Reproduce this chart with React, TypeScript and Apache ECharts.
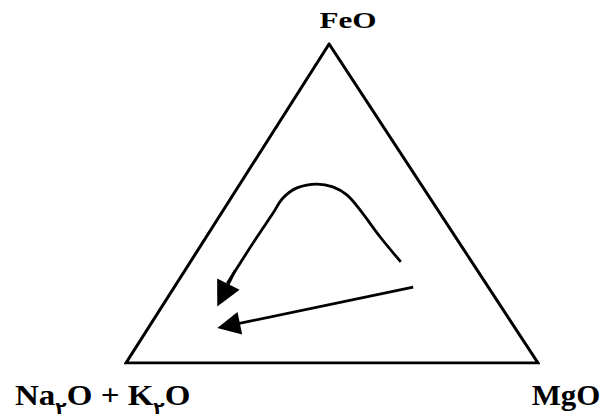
import React, { useEffect, useRef } from 'react';
import * as echarts from 'echarts';

// Ternary frame (plotted in a hidden 0..100 cartesian frame)
const triangleX = [50, 100, 49.3, 0, 50];
const triangleY = [0, 0, 100, 0, 0];

// Curved trend (hump) ending in an arrow toward the Na2O+K2O corner
const curveX = [66.7, 61.7, 56.8, 53.6, 50.2, 46.4, 41.5, 38.1, 35.7, 31.8, 27.7, 24.6];
const curveY = [31.7, 39.5, 48.0, 52.7, 55.2, 56.1, 54.9, 51.7, 47.0, 39.5, 31.3, 25.0];
const curveArrowFrom = [26.5, 29.0];
const curveArrowTo = [23.5, 21.2];

// Straight trend arrow
const straightArrowFrom = [69.7, 23.8];
const straightArrowTo = [24.9, 11.7];

// Vertex labels
const apexLabel = 'FeO';
const leftLabel = '{b|Na}{s|۲}{b|O + K}{s|۲}{b|O}';
const rightLabel = 'MgO';

const serif = '"Liberation Serif", "Times New Roman", serif';

export default function App() {
  const ref = useRef<HTMLDivElement>(null);
  useEffect(() => {
    if (!ref.current) return;
    const chart = echarts.init(ref.current, null, { renderer: 'svg' });
    const black = '#000';
    chart.setOption({
      animation: false,
      backgroundColor: '#fff',
      grid: { left: 126, right: 65, top: 44, bottom: 53, containLabel: false },
      xAxis: { type: 'value', min: 0, max: 100, show: false },
      yAxis: { type: 'value', min: 0, max: 100, show: false },
      series: [
        {
          type: 'line',
          data: triangleX.map((x, i) => [x, triangleY[i]]),
          symbol: 'none',
          lineStyle: { color: black, width: 3, join: 'miter', cap: 'butt' },
          silent: true,
        },
        {
          type: 'line',
          data: curveX.map((x, i) => [x, curveY[i]]),
          symbol: 'none',
          smooth: 0.35,
          lineStyle: { color: black, width: 2.8, cap: 'butt' },
          silent: true,
        },
        {
          type: 'lines',
          coordinateSystem: 'cartesian2d',
          symbol: ['none', 'triangle'],
          symbolSize: [16, 25],
          lineStyle: { color: black, width: 2.8, opacity: 1, curveness: 0 },
          itemStyle: { color: black },
          silent: true,
          data: [
            { coords: [curveArrowFrom, curveArrowTo] },
            { coords: [straightArrowFrom, straightArrowTo], symbolSize: [15, 23] },
          ],
        },
      ],
      graphic: [
        {
          type: 'text',
          x: 348,
          y: 19.5,
          scaleX: 1.3,
          style: {
            text: apexLabel,
            x: 0,
            y: 0,
            textAlign: 'center',
            textVerticalAlign: 'middle',
            fontFamily: serif,
            fontWeight: 'bold',
            fontSize: 24,
            fill: black,
          },
        },
        {
          type: 'text',
          x: 566,
          y: 395,
          scaleX: 1.03,
          style: {
            text: rightLabel,
            x: 0,
            y: 0,
            textAlign: 'center',
            textVerticalAlign: 'middle',
            fontFamily: serif,
            fontWeight: 'bold',
            fontSize: 30,
            fill: black,
          },
        },
        {
          type: 'text',
          x: 15,
          y: 398,
          scaleX: 1.1,
          style: {
            text: leftLabel,
            x: 0,
            y: 0,
            textAlign: 'left',
            textVerticalAlign: 'middle',
            fill: black,
            rich: {
              b: {
                fontFamily: serif,
                fontWeight: 'bold',
                fontSize: 30,
                lineHeight: 36,
                verticalAlign: 'top',
                fill: black,
              },
              s: {
                fontFamily: '"DejaVu Sans", "Noto Sans", sans-serif',
                fontWeight: 'bold',
                fontSize: 17,
                lineHeight: 36,
                verticalAlign: 'bottom',
                fill: black,
              },
            },
          },
        },
      ],
    });
    return () => chart.dispose();
  }, []);
  return (
    <div
      ref={ref}
      style={{ position: 'fixed', left: 0, top: 0, width: 603, height: 416, background: '#fff' }}
    />
  );
}
